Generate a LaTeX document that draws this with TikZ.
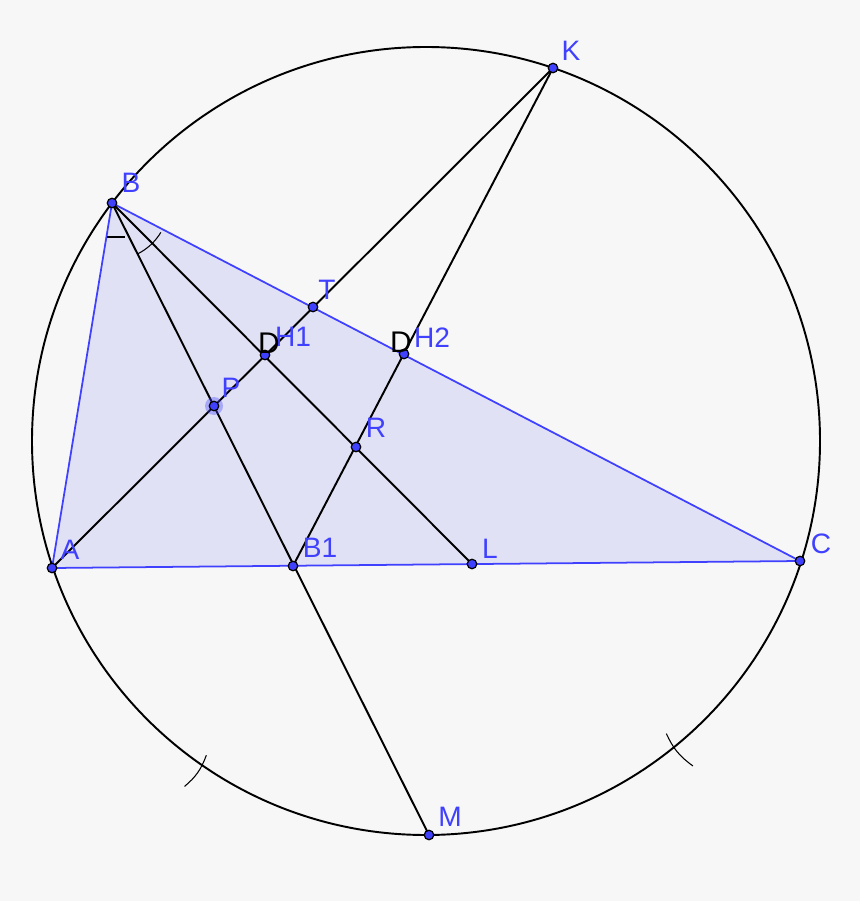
\documentclass[tikz,border=0pt]{standalone}
\usepackage{fontspec}
\setmainfont{Liberation Sans}
\usetikzlibrary{calc}
\definecolor{bggray}{RGB}{247,247,247}
\definecolor{trifill}{RGB}{225,225,245}
\definecolor{ggblue}{RGB}{64,64,255}

\begin{document}
\begin{tikzpicture}[x=0.02cm,y=0.02cm,
  pt/.style={circle,fill=ggblue,draw=black,line width=0.7pt,inner sep=0pt,minimum size=0.19cm},
  lbl/.style={text=ggblue,inner sep=0pt,font=\fontsize{16}{19}\selectfont},
  dlbl/.style={text=black,inner sep=0pt,font=\fontsize{17}{20}\selectfont},
  seg/.style={line width=1.1pt}]
\fill[bggray](0,0)rectangle(860,-901);
\useasboundingbox(0,0)rectangle(860,-901);
% points
\coordinate(O)at(426,-441);
\coordinate(A)at(52,-568);
\coordinate(B)at(112,-203);
\coordinate(C)at(800,-561);
\coordinate(K)at(553,-68);
\coordinate(M)at(429,-835);
\coordinate(T)at(313,-307);
\coordinate(H1)at(265,-355);
\coordinate(H2)at(404,-354);
\coordinate(P)at(214,-406);
\coordinate(R)at(356,-447);
\coordinate(B1)at(293,-566);
\coordinate(L)at(472,-564);
% triangle
\filldraw[fill=trifill,draw=ggblue,line width=1pt](A)--(B)--(C)--cycle;
% circle
\draw[seg](O)circle[radius=394];
% lines
\draw[seg](A)--(K);
\draw[seg](B)--(M);
\draw[seg](B)--(L);
\draw[seg](K)--(B1);
% equal angles at B
\draw[line width=0.6pt]($(B)+(-5,-34)$)--($(B)+(13,-34)$);
\draw[line width=0.6pt](B)++(-63.36:57)arc[start angle=-63.36,end angle=-31,radius=57];
% equal arcs
\draw[line width=0.6pt]($(O)!0.955!(196,-770)$)to[bend left=15]($(O)!1.05!(196,-770)$);
\draw[line width=0.6pt]($(O)!0.95!(679,-749)$)to[bend right=15]($(O)!1.055!(679,-749)$);
% halo
\fill[ggblue,opacity=0.35](P)circle[radius=9];
\foreach \p in {A,B,C,K,M,T,H1,H2,P,R,B1,L}
  \node[pt](n\p)at(\p){};
% labels
\node[lbl](lA)at(70,-550){A};
\node[lbl](lB)at(131,-183){B};
\node[lbl](lC)at(821,-544){C};
\node[lbl](lK)at(571,-51){K};
\node[lbl](lT)at(327,-290){T};
\node[lbl](lH1)at(293,-337){H1};
\node[lbl](lH2)at(432,-338){H2};
\node[lbl](lP)at(231,-388){P};
\node[lbl](lR)at(376,-428){R};
\node[lbl](lB1)at(320,-548){B1};
\node[lbl](lL)at(490,-549){L};
\node[lbl](lM)at(450,-817){M};
\node[dlbl](lD1)at(269,-343){D};
\node[dlbl](lD2)at(401,-342){D};
\end{tikzpicture}
\end{document}
